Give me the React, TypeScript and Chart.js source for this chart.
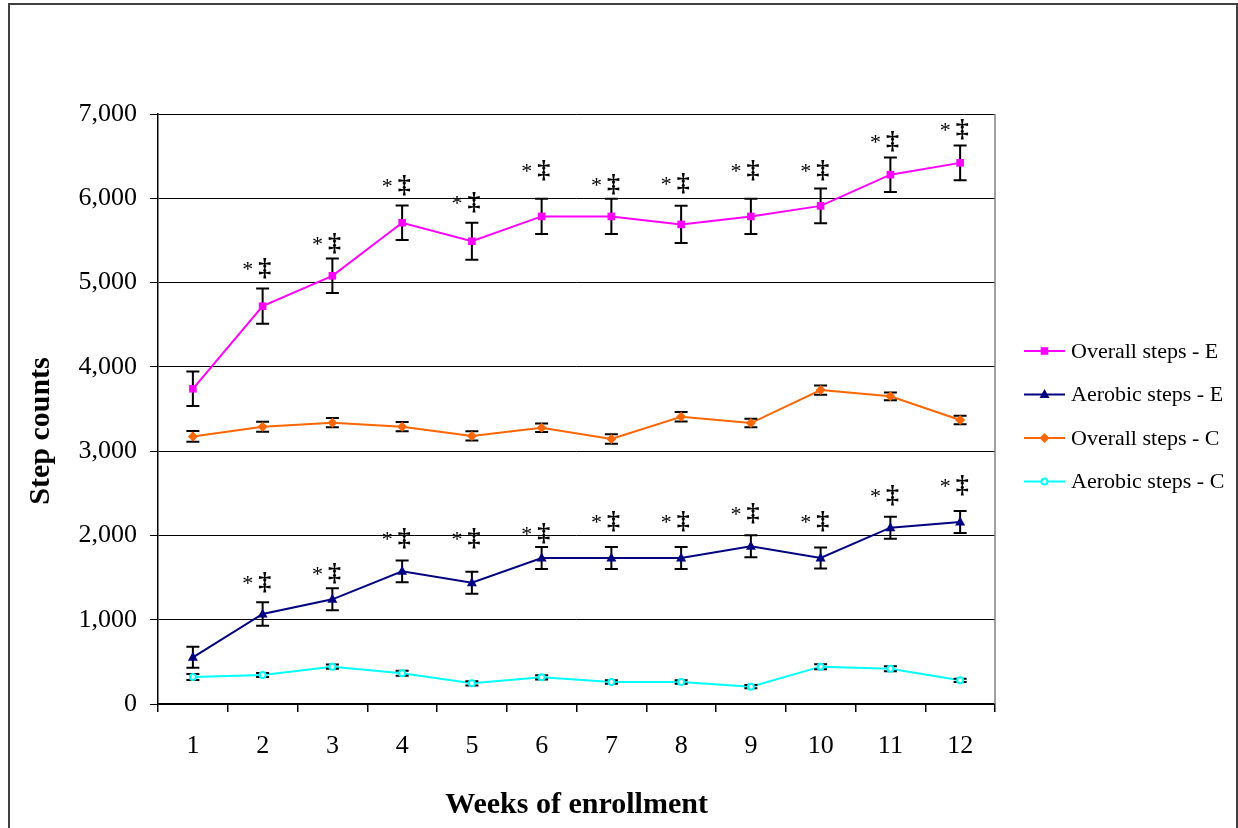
import React, { useEffect, useRef } from "react";
import { Chart, registerables } from "chart.js";

Chart.register(...registerables);

const FONT = "'Liberation Serif', 'Times New Roman', serif";

const weeks = ["1", "2", "3", "4", "5", "6", "7", "8", "9", "10", "11", "12"];

// Mean daily step counts per week with their error-bar half widths
const overallE = [3740, 4720, 5080, 5710, 5490, 5785, 5785, 5690, 5785, 5910, 6280, 6420];
const overallEErr = [205, 210, 205, 205, 220, 210, 210, 220, 210, 205, 205, 205];
const aerobicE = [554, 1068, 1242, 1574, 1439, 1732, 1732, 1732, 1871, 1732, 2092, 2159];
const aerobicEErr = [125, 140, 130, 130, 130, 130, 130, 130, 130, 125, 130, 130];
const overallC = [3175, 3290, 3337, 3290, 3180, 3278, 3144, 3408, 3333, 3725, 3650, 3369];
const overallCErr = [65, 60, 55, 55, 55, 50, 55, 55, 50, 55, 45, 50];
const aerobicC = [320, 344, 443, 364, 245, 316, 261, 261, 206, 443, 419, 281];
const aerobicCErr = [35, 25, 25, 30, 25, 25, 20, 20, 20, 30, 30, 20];

// Height (in step counts) at which the "* ‡" significance marks sit; null = none
const overallEMark = [null, 5148, 5445, 6133, 5935, 6311, 6151, 6153, 6315, 6315, 6655, 6797];
const aerobicEMark = [null, 1423, 1536, 1950, 1949, 2011, 2153, 2153, 2246, 2153, 2453, 2574];

const seriesNames = ["Overall steps - E", "Aerobic steps - E", "Overall steps - C", "Aerobic steps - C"];
const seriesColors = ["#FF00FF", "#000080", "#FF6600", "#00FFFF"];
const errors = [overallEErr, aerobicEErr, overallCErr, aerobicCErr];
const marks = [overallEMark, aerobicEMark, null, null];

function drawMarker(ctx: CanvasRenderingContext2D, kind: number, x: number, y: number) {
  ctx.save();
  ctx.fillStyle = seriesColors[kind];
  ctx.strokeStyle = seriesColors[kind];
  ctx.beginPath();
  if (kind === 0) {
    ctx.rect(x - 3.8, y - 3.8, 7.6, 7.6);
    ctx.fill();
  } else if (kind === 1) {
    ctx.moveTo(x, y - 5.5);
    ctx.lineTo(x + 5, y + 3.5);
    ctx.lineTo(x - 5, y + 3.5);
    ctx.closePath();
    ctx.fill();
  } else if (kind === 2) {
    ctx.moveTo(x, y - 5);
    ctx.lineTo(x + 5, y);
    ctx.lineTo(x, y + 5);
    ctx.lineTo(x - 5, y);
    ctx.closePath();
    ctx.fill();
  } else {
    ctx.arc(x, y, 3, 0, Math.PI * 2);
    ctx.fillStyle = "#fff";
    ctx.fill();
    ctx.lineWidth = 2;
    ctx.stroke();
  }
  ctx.restore();
}

const decorations = {
  id: "decorations",
  afterDatasetsDraw(chart: any) {
    const { ctx, scales, chartArea } = chart;
    const yS = scales.y;
    ctx.save();
    // error bars
    ctx.strokeStyle = "#000";
    ctx.lineWidth = 2;
    chart.data.datasets.forEach((ds: any, di: number) => {
      const meta = chart.getDatasetMeta(di);
      meta.data.forEach((pt: any, i: number) => {
        const v = ds.data[i];
        const e = errors[di][i];
        const yt = yS.getPixelForValue(v + e);
        const yb = yS.getPixelForValue(v - e);
        const x = pt.x;
        ctx.beginPath();
        ctx.moveTo(x, yt);
        ctx.lineTo(x, yb);
        ctx.moveTo(x - 6.5, yt);
        ctx.lineTo(x + 6.5, yt);
        ctx.moveTo(x - 6.5, yb);
        ctx.lineTo(x + 6.5, yb);
        ctx.stroke();
      });
    });
    // markers on top of the error bars
    chart.data.datasets.forEach((ds: any, di: number) => {
      const meta = chart.getDatasetMeta(di);
      meta.data.forEach((pt: any) => drawMarker(ctx, di, pt.x, pt.y));
    });
    // significance marks
    ctx.fillStyle = "#000";
    ctx.textAlign = "center";
    ctx.textBaseline = "alphabetic";
    marks.forEach((levels, di) => {
      if (!levels) return;
      const meta = chart.getDatasetMeta(di);
      meta.data.forEach((pt: any, i: number) => {
        const lv = levels[i];
        if (lv == null) return;
        const y = yS.getPixelForValue(lv) + 6;
        ctx.font = `bold 26px ${FONT}`;
        ctx.fillText("\u2021", pt.x + 2, y);
        ctx.font = `22px ${FONT}`;
        ctx.fillText("*", pt.x - 15, y);
      });
    });
    // right edge of the plot area
    ctx.strokeStyle = "#808080";
    ctx.lineWidth = 1.5;
    ctx.beginPath();
    ctx.moveTo(chartArea.right, chartArea.top);
    ctx.lineTo(chartArea.right, chartArea.bottom);
    ctx.stroke();
    ctx.restore();
  },
  afterDraw(chart: any) {
    const { ctx } = chart;
    ctx.save();
    // y axis title
    ctx.fillStyle = "#000";
    ctx.font = `bold 30px ${FONT}`;
    ctx.textAlign = "center";
    ctx.textBaseline = "middle";
    ctx.translate(41.5, 431);
    ctx.rotate(-Math.PI / 2);
    ctx.fillText("Step counts", 0, 0);
    ctx.restore();

    // legend
    ctx.save();
    seriesNames.forEach((name, i) => {
      const y = 351 + i * 43.5;
      ctx.strokeStyle = seriesColors[i];
      ctx.lineWidth = 2;
      ctx.beginPath();
      ctx.moveTo(1024, y);
      ctx.lineTo(1065, y);
      ctx.stroke();
      drawMarker(ctx, i, 1044.5, y);
      ctx.fillStyle = "#000";
      ctx.font = `22px ${FONT}`;
      ctx.textAlign = "left";
      ctx.textBaseline = "middle";
      ctx.fillText(name, 1071, y + 1);
    });
    // outer frame
    ctx.strokeStyle = "#404040";
    ctx.lineWidth = 2;
    ctx.strokeRect(9, 4, 1228, 900);
    ctx.restore();
  },
};

export default function App() {
  const ref = useRef<HTMLCanvasElement>(null);

  useEffect(() => {
    document.body.style.margin = "0";
    const seriesData = [overallE, aerobicE, overallC, aerobicC];
    const chart = new Chart(ref.current as HTMLCanvasElement, {
      type: "line",
      data: {
        labels: weeks,
        datasets: seriesData.map((d, i) => ({
          label: seriesNames[i],
          data: d,
          borderColor: seriesColors[i],
          backgroundColor: seriesColors[i],
          borderWidth: 2,
          pointRadius: 0,
          tension: 0,
          fill: false,
        })),
      },
      options: {
        animation: false,
        responsive: true,
        maintainAspectRatio: false,
        layout: { padding: { top: 114, right: 243, left: 0, bottom: 0 } },
        plugins: { legend: { display: false }, tooltip: { enabled: false } },
        scales: {
          x: {
            offset: true,
            grid: { offset: true, drawOnChartArea: false, tickLength: 8, color: "#000", lineWidth: 1.5 },
            border: { color: "#000", width: 1.5 },
            ticks: { color: "#000", font: { family: FONT, size: 26 }, padding: 19, maxRotation: 0 },
            title: {
              display: true,
              text: "Weeks of enrollment",
              color: "#000",
              font: { family: FONT, size: 30, weight: "bold" },
              padding: { top: 0, bottom: 5 },
            },
            afterFit: (s: any) => {
              s.height = 124;
            },
          },
          y: {
            min: 0,
            max: 7000,
            ticks: {
              stepSize: 1000,
              color: "#000",
              padding: 13,
              font: { family: FONT, size: 26 },
              callback: (v: any) => Number(v).toLocaleString("en-US"),
            },
            grid: { color: "#000", tickColor: "#000", tickLength: 8, lineWidth: 1 },
            border: { color: "#000", width: 1.5 },
            afterFit: (s: any) => {
              s.width = 158;
            },
          },
        },
      },
      plugins: [decorations],
    });
    return () => chart.destroy();
  }, []);

  return (
    <div style={{ position: "relative", width: 1238, height: 828 }}>
      <canvas ref={ref} />
    </div>
  );
}
